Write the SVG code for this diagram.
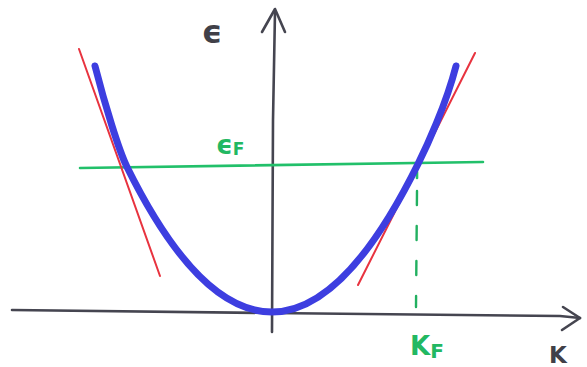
<svg xmlns="http://www.w3.org/2000/svg" width="587" height="367" viewBox="0 0 587 367">
<style>
.axis{fill:none;stroke:#454550;stroke-width:2.6;stroke-linecap:round;stroke-linejoin:round}
.band{fill:none;stroke:#3d3ee0;stroke-width:7;stroke-linecap:round;stroke-linejoin:round}
.tan{fill:none;stroke:#e8333f;stroke-width:2;stroke-linecap:round}
.fermi{fill:none;stroke:#22c06a;stroke-width:2.6;stroke-linecap:round}
.dash{fill:none;stroke:#22b060;stroke-width:2.4;stroke-linecap:round;stroke-dasharray:14 21}
.lbl{font-family:"DejaVu Sans","Liberation Sans",sans-serif;font-weight:bold}
.g{fill:#22b862}
.d{fill:#404048}
</style>
<rect width="587" height="367" fill="#ffffff"/>
<g id="axes">
<path class="axis" d="M272,332 L273,120 L275,12"/>
<path class="axis" d="M262,32 L275,9 L285,32"/>
<path class="axis" d="M12,310 L270,313 L560,316 L580,318"/>
<path class="axis" d="M563,307 L580,318 L562,330"/>
</g>
<g id="fermi-level">
<path class="fermi" d="M80,168 L483,162"/>
<path class="fermi" d="M417,172 L417,178"/>
<path class="dash" d="M417,191 L416,307"/>
</g>
<g id="tangents">
<path class="tan" d="M79,49 L160,276"/>
<path class="tan" d="M475,53 L358,285"/>
</g>
<g id="band">
<path class="band" d="M95,66 C105,105 119,151 127,167 C175,264 224,312 272,312 C321,312 369,263 418,164 C426,148 446,105 456,66"/>
</g>
<g id="labels">
<text class="lbl d" x="212" y="43" font-size="32" text-anchor="middle">ϵ</text>
<text class="lbl g" x="216" y="154" font-size="26">ϵ<tspan font-size="17" dy="1">F</tspan></text>
<text class="lbl g" x="410" y="355" font-size="26">K<tspan font-size="20" dy="3">F</tspan></text>
<text class="lbl d" x="549" y="363" font-size="23">K</text>
</g>
</svg>
